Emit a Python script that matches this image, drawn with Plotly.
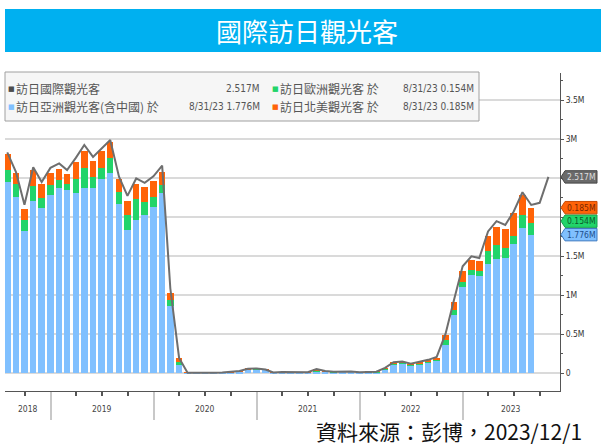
import pandas as pd
import plotly.graph_objects as go

# ---------------- data (millions of visitors) ----------------
months = pd.date_range("2018-07-01", periods=64, freq="MS") + pd.offsets.MonthEnd(0)

total = [2.832, 2.578, 2.160, 2.641, 2.452, 2.633,
         2.690, 2.604, 2.761, 2.927, 2.773, 2.880, 2.991, 2.520, 2.273, 2.497, 2.441, 2.525,
         2.661, 1.085, 0.194, 0.0029, 0.0017, 0.0026, 0.0039, 0.0085, 0.0137, 0.0277, 0.0566, 0.0587,
         0.0461, 0.0074, 0.0124, 0.0109, 0.0103, 0.0099, 0.0513, 0.0257, 0.0179, 0.0224, 0.0212, 0.0120,
         0.0177, 0.0167, 0.0661, 0.1398, 0.1472, 0.1205, 0.1444, 0.1699, 0.2069, 0.4989, 0.9344, 1.3706,
         1.4972, 1.4759, 1.8170, 1.9492, 1.8997, 2.0732, 2.3201, 2.1569, 2.1843, 2.5168]

asia = [2.45, 2.26, 1.82, 2.21, 2.12, 2.29,
        2.38, 2.35, 2.31, 2.38, 2.38, 2.49, 2.57, 2.17, 1.84, 1.97, 2.03, 2.13,
        2.31, 0.86, 0.10, 0.002, 0.001, 0.0015, 0.0025, 0.006, 0.010, 0.022, 0.050, 0.052,
        0.040, 0.005, 0.009, 0.008, 0.007, 0.007, 0.025, 0.015, 0.013, 0.017, 0.016, 0.009,
        0.013, 0.013, 0.052, 0.115, 0.118, 0.095, 0.113, 0.133, 0.160, 0.36, 0.74, 1.10,
        1.26, 1.25, 1.40, 1.47, 1.48, 1.65, 1.86, 1.776]

europe = [0.16, 0.17, 0.15, 0.19, 0.13, 0.12,
          0.10, 0.08, 0.18, 0.25, 0.14, 0.14, 0.19, 0.15, 0.19, 0.26, 0.17, 0.13,
          0.10, 0.08, 0.045, 0.0003, 0.0002, 0.0003, 0.0004, 0.001, 0.0015, 0.002, 0.002, 0.002,
          0.002, 0.001, 0.0015, 0.001, 0.0012, 0.001, 0.012, 0.005, 0.002, 0.002, 0.002, 0.001,
          0.002, 0.001, 0.006, 0.010, 0.012, 0.010, 0.012, 0.014, 0.016, 0.06, 0.07, 0.07,
          0.06, 0.06, 0.16, 0.17, 0.13, 0.11, 0.17, 0.154]

namerica = [0.20, 0.14, 0.14, 0.20, 0.18, 0.16,
            0.14, 0.13, 0.22, 0.22, 0.20, 0.22, 0.20, 0.17, 0.18, 0.20, 0.19, 0.21,
            0.17, 0.09, 0.045, 0.0004, 0.0003, 0.0004, 0.0005, 0.0008, 0.001, 0.0015, 0.002, 0.002,
            0.002, 0.001, 0.001, 0.001, 0.001, 0.001, 0.008, 0.003, 0.002, 0.002, 0.002, 0.001,
            0.001, 0.001, 0.004, 0.007, 0.009, 0.009, 0.011, 0.013, 0.017, 0.07, 0.10, 0.14,
            0.13, 0.13, 0.20, 0.24, 0.24, 0.29, 0.25, 0.185]

bar_months = months[:len(asia)]

ytick_vals = [0, 0.5, 1, 1.5, 2, 2.5, 3, 3.5]
ytick_text = ["0", "0.5M", "1M", "1.5M", "", "", "3M", "3.5M"]
years = [2018, 2019, 2020, 2021, 2022, 2023]

names = ["訪日國際觀光客", "訪日亞洲觀光客(含中國) 於", "訪日歐洲觀光客 於", "訪日北美觀光客 於"]
asof = "8/31/23"

# ---------------- style ----------------
C_BLUE = "#80c0ff"
C_GREEN = "#22d46a"
C_ORANGE = "#ff6308"
C_LINE = "#6e6e6e"
NARROW = "Liberation Sans Narrow, DejaVu Sans Condensed, Arial Narrow, Liberation Sans, sans-serif"
CJK = "Noto Sans CJK TC, Noto Sans CJK SC, sans-serif"

W, H = 601, 446
L, R, T, B = 5, 560, 73, 391
YMIN, YMAX = -0.23, 3.85
PXU = (B - T) / (YMAX - YMIN)   # px per million


def xp(px):
    return (px - L) / (R - L)


def yp(py):
    return (B - py) / (B - T)


fig = go.Figure()
bw = 23 * 86400000
fig.add_trace(go.Bar(x=bar_months, y=asia, marker=dict(color=C_BLUE, line=dict(width=0)), width=bw, name=names[1]))
fig.add_trace(go.Bar(x=bar_months, y=europe, marker=dict(color=C_GREEN, line=dict(width=0)), width=bw, name=names[2]))
fig.add_trace(go.Bar(x=bar_months, y=namerica, marker=dict(color=C_ORANGE, line=dict(width=0)), width=bw, name=names[3]))
fig.add_trace(go.Scatter(x=months, y=total, mode="lines", line=dict(color=C_LINE, width=2), name=names[0]))

x_start = months[0] - pd.Timedelta(days=8)
x_end = months[-1] + pd.Timedelta(days=41)
year_starts = [pd.Timestamp(f"{y}-01-01") for y in years[1:]]

fig.update_layout(
    width=W, height=H,
    margin=dict(l=L, r=W - R, t=T, b=H - B, pad=0),
    paper_bgcolor="white", plot_bgcolor="white",
    barmode="stack", bargap=0, showlegend=False,
    font=dict(family=NARROW, color="#333333"),
    xaxis=dict(type="date", range=[x_start, x_end], showline=True, linecolor="#555555", linewidth=1,
               showgrid=False, zeroline=False,
               tickmode="array", tickvals=year_starts, ticks="outside", ticklen=28,
               tickcolor="#c8c8c8", tickwidth=1.5, showticklabels=False,
               minor=dict(dtick="M3", tick0="2018-01-01", ticks="outside", ticklen=4,
                          tickcolor="#555555", showgrid=False)),
    yaxis=dict(side="right", range=[YMIN, YMAX], showline=True, linecolor="#555555", linewidth=1,
               tickmode="array", tickvals=ytick_vals, ticktext=ytick_text,
               ticks="outside", ticklen=3, tickcolor="#555555",
               showgrid=True, gridcolor="#dadada", gridwidth=1.5, zeroline=False,
               tickfont=dict(size=8.5, family=NARROW, color="#333333"),
               minor=dict(dtick=0.25, ticks="outside", ticklen=2, tickcolor="#555555", showgrid=False)),
)

shapes = []
ann = []

# title banner
shapes.append(dict(type="rect", xref="paper", yref="paper", x0=xp(5), x1=xp(601), y0=yp(52), y1=yp(9),
                   fillcolor="#00b0f0", line=dict(width=0), layer="above"))
ann.append(dict(xref="paper", yref="paper", x=xp(307), y=yp(30.5), text="國際訪日觀光客", showarrow=False,
                font=dict(family=CJK, size=26, color="white"), xanchor="center", yanchor="middle"))

# legend box
shapes.append(dict(type="rect", xref="paper", yref="paper", x0=xp(5), x1=xp(479), y0=yp(121), y1=yp(72),
                   fillcolor="#f6f6f6", line=dict(color="#a0a0a0", width=1), layer="above"))

leg_rows = [
    (11, 88.5, "#4d4d4d", names[0], 262, f"{total[-1]:.3f}M"),
    (11, 106.5, C_BLUE, names[1], 262, f"{asof} {asia[-1]:.3f}M"),
    (275, 88.5, C_GREEN, names[2], 476, f"{asof} {europe[-1]:.3f}M"),
    (275, 106.5, C_ORANGE, names[3], 476, f"{asof} {namerica[-1]:.3f}M"),
]
for sx, sy, col, label, rx, val in leg_rows:
    ann.append(dict(xref="paper", yref="paper", x=xp(sx), y=yp(sy), text="■", showarrow=False,
                    font=dict(family="DejaVu Sans", size=7, color=col), xanchor="center", yanchor="middle"))
    ann.append(dict(xref="paper", yref="paper", x=xp(sx + 3), y=yp(sy), text=label, showarrow=False,
                    font=dict(family=CJK, size=12, color="#555555"), xanchor="left", yanchor="middle"))
    ann.append(dict(xref="paper", yref="paper", x=xp(rx), y=yp(sy), text=val, showarrow=False,
                    font=dict(family=NARROW, size=10, color="#555555"), xanchor="right", yanchor="middle"))

# year labels
bounds = [x_start] + year_starts + [x_end]
for i, yr in enumerate(years):
    mid = bounds[i] + (bounds[i + 1] - bounds[i]) / 2
    ann.append(dict(xref="x", yref="paper", x=mid, y=yp(409), text=str(yr), showarrow=False,
                    font=dict(family=NARROW, size=8.5, color="#444444"), xanchor="center", yanchor="middle"))

# value tags on right axis (stacked positions, spread to avoid overlap)
tag_items = [
    (asia[-1], C_BLUE, "#3a78c0", "#1d4f8c", f"{asia[-1]:.3f}M"),
    (asia[-1] + europe[-1], C_GREEN, "#12a04c", "#0b5a2a", f"{europe[-1]:.3f}M"),
    (asia[-1] + europe[-1] + namerica[-1], C_ORANGE, "#c84800", "#7a2600", f"{namerica[-1]:.3f}M"),
]
min_gap = 13.5 / PXU
placed = []
prev = None
for v, fc, lc, tc, txt in tag_items:
    yv = v if prev is None else max(v, prev + min_gap)
    placed.append((yv, fc, lc, tc, txt))
    prev = yv
placed.append((total[-1], "#6a6a6a", "#444444", "#dedede", f"{total[-1]:.3f}M"))

hh = 6.2 / PXU
for yv, fc, lc, tc, txt in placed:
    path = (f"M {xp(561)},{yv} L {xp(565)},{yv + hh} L {xp(597)},{yv + hh} "
            f"L {xp(597)},{yv - hh} L {xp(565)},{yv - hh} Z")
    shapes.append(dict(type="path", xref="paper", yref="y", path=path, fillcolor=fc,
                       line=dict(color=lc, width=1), layer="above"))
    ann.append(dict(xref="paper", yref="y", x=xp(581), y=yv, text=txt, showarrow=False,
                    font=dict(family=NARROW, size=8.5, color=tc), xanchor="center", yanchor="middle"))

# source
ann.append(dict(xref="paper", yref="paper", x=xp(584), y=yp(431), text="資料來源：彭博，2023/12/1",
                showarrow=False, font=dict(family=CJK, size=21, color="#111111"),
                xanchor="right", yanchor="middle"))

fig.update_layout(shapes=shapes, annotations=ann)
fig.write_html("out.html", config={"displayModeBar": False},
               post_script="document.body.style.margin='0px';document.body.style.padding='0px';")
